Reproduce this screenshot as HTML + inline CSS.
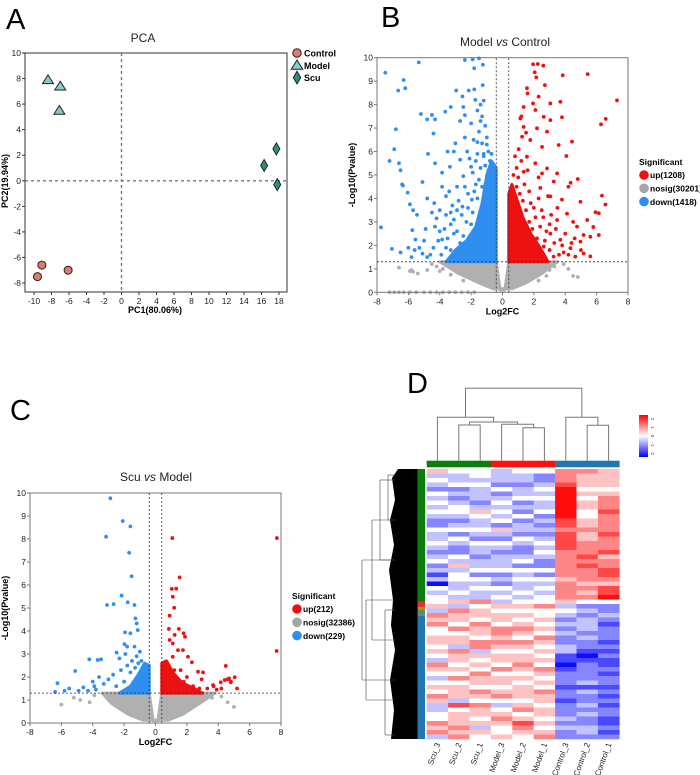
<!DOCTYPE html>
<html><head><meta charset="utf-8">
<style>
html,body{margin:0;padding:0;background:#fff;}
svg{display:block;font-family:"Liberation Sans",Arial,sans-serif;}
</style></head>
<body>
<svg id="fig" width="700" height="775" viewBox="0 0 700 775" xmlns="http://www.w3.org/2000/svg">
<g id="panelA"></g>
<g id="panelB"></g>
<g id="panelC"></g>
<g id="panelD"></g>
</svg>
<script>
// ---------- PCA data ----------
const pcaGroups = ["Control","Model","Scu"];
const pcaControl = [[-9.1,-6.6],[-9.6,-7.5],[-6.1,-7.0]];
const pcaModel = [[-8.4,7.9],[-7.0,7.4],[-7.1,5.5]];
const pcaScu = [[16.3,1.2],[17.7,2.5],[17.8,-0.3]];
const pcaXTicks = [-10,-8,-6,-4,-2,0,2,4,6,8,10,12,14,16,18];
const pcaYTicks = [-8,-6,-4,-2,0,2,4,6,8,10];

// ---------- Volcano B data ----------
const volTicksX = [-8,-6,-4,-2,0,2,4,6,8];
const volTicksY = [0,1,2,3,4,5,6,7,8,9,10];
const bLegend = ["up(1208)","nosig(30201)","down(1418)"];
const bDown = [[-7.47,9.36],[-6.3,9.05],[-6.2,8.7],[-6.65,8.6],[-6.8,6.95],[-6.9,6.1],[-7.2,5.6],[-6.6,5.5],[-6.5,5.2],[-6.4,4.6],[-6.35,4.55],[-6.05,4.25],[-5.9,3.75],[-5.7,3.5],[-7.75,2.77],[-5.75,2.65],[-7.05,1.85],[-6.5,1.7],[-5.34,9.8],[-5.2,7.6],[-4.8,7.37],[-4.5,7.56],[-4.3,7.37],[-4.4,6.77],[-4.75,5.9],[-4.3,5.5],[-5.1,4.7],[-4.35,3.8],[-3.65,7.7],[-3.3,7.9],[-3,6.35],[-3.1,6],[-3.6,4.1],[-2.95,8.6],[-2.55,8.35],[-2.4,9.9],[-1.9,9.93],[-1.5,9.97],[-1.25,9.7],[-1.8,9.55],[-2.15,8.6],[-1.8,8.65],[-1.26,8.83],[-1.73,8.2],[-1.2,8.17],[-2.5,7.9],[-2.4,7.55],[-1.6,7.75],[-1.3,7.5],[-2,7.2],[-1.5,6.85],[-2.4,6.6],[-1.84,6.5],[-1.3,6.35],[-2.25,6],[-1.6,5.9],[-1.2,5.8],[-2.7,5.65],[-2,5.35],[-3.35,5.35],[-3.85,5.1],[-2.5,4.95],[-2.9,4.5],[-3.85,4.5],[-4.8,4],[-4.5,3.4],[-5.45,3.3],[-4.9,2.7],[-4.2,3.15],[-3.3,3.4],[-5.55,2.25],[-5.1,1.65],[-3.85,2.25],[-3.1,2.5],[-2.55,3.65],[-1.95,3.95],[-1.1,7.1],[-1.0,6.6],[-0.9,6.0],[-1.4,7.3],[-0.8,5.6],[-1.7,4.6],[-2.2,4.2],[-2.8,3.9],[-3.3,2.9],[-4.0,2.6],[-5.0,2.2],[-6.0,1.9],[-5.8,1.5],[-4.6,1.6],[-3.6,1.9],[-3.2,3.7],[-2.1,5.7],[-1.6,6.4],[-1.4,8.0],[-2.7,7.3],[-3.5,6.0],
 [-4.8,1.5],[-4.4,1.9],[-4.1,2.2],[-3.9,1.6],[-3.7,2.7],[-3.5,2.3],[-3.3,1.8],[-3.1,3.1],[-2.9,2.6],[-2.8,1.9],[-2.6,3.3],[-2.5,2.4],[-2.3,3.0],[-2.2,3.6],[-2.0,2.9],[-1.9,3.4],[-1.8,4.3],[-1.6,4.0],[-1.5,4.8],[-1.4,5.3],[-1.3,4.5],[-1.2,5.9],[-1.1,5.4],[-1.0,6.3],[-5.3,1.9],[-5.6,1.8],[-4.3,2.8],[-3.6,3.3],[-2.7,2.1],[-2.4,4.5],[-1.9,5.1],[-1.7,5.6],[-1.1,4.6],[-0.9,5.2],[-0.7,5.9],[-4.0,3.5],[-3.4,4.3],[-2.9,3.5]];
const bUp = [[1.95,9.72],[2.25,9.73],[2.6,9.66],[2.05,9.38],[2.15,9.16],[3.84,9.25],[5.43,9.3],[7.3,8.18],[6.58,7.39],[6.28,7.16],[1.56,8.7],[1.6,8.48],[2.3,8.34],[3.05,8.05],[3.69,8.12],[2.7,8.83],[1.35,7.9],[1.95,8.05],[2.1,7.77],[1.14,7.41],[2.63,7.48],[3.05,7.34],[3.79,7.46],[1.35,7.05],[2.2,6.99],[2.84,6.85],[1.25,6.63],[1.77,6.49],[2.52,6.2],[3.58,6.28],[4.43,6.42],[4.07,5.81],[1.03,6.1],[1.56,5.78],[2.09,5.5],[2.84,5.28],[1.35,5.14],[2.52,5.07],[3.48,5.07],[3.27,4.72],[4.34,4.67],[4.8,4.83],[4.2,4.5],[2.41,4.45],[3.05,4.09],[3.79,3.95],[6.34,4.12],[6.56,3.74],[5.93,3.41],[6.14,3.37],[4.97,3.86],[5.4,3.08],[5.79,2.78],[4.11,3.35],[3.48,3.08],[4.75,2.8],[5.17,2.44],[5.6,2.37],[6.14,2.44],[4.97,2.16],[4.33,1.88],[5.6,1.53],[3.9,1.7],[3.05,2.5],[3.69,2.24],[2.63,1.95],[4.64,1.52],[3.26,1.52],[5.17,1.66],[0.9,5.3],[1.0,4.9],[1.7,4.3],[2.0,3.6],[2.6,3.2],[3.0,2.9],[1.2,7.5],[1.5,6.8],[0.8,5.8],[2.3,4.9],[4.6,2.3],[5.0,1.8],
 [0.7,5.0],[0.9,4.5],[1.1,4.2],[1.3,3.9],[1.4,4.6],[1.5,3.5],[1.7,3.0],[1.8,3.8],[1.9,2.7],[2.1,3.2],[2.2,2.3],[2.4,2.8],[2.5,3.5],[2.7,2.2],[2.8,2.6],[3.0,1.8],[3.1,3.3],[3.3,2.1],[3.4,2.7],[3.6,1.6],[3.8,2.0],[4.0,2.5],[4.2,1.6],[4.4,2.1],[2.9,4.1],[2.3,4.0],[1.6,5.2],[1.2,5.6],[3.5,3.6],[4.5,3.0],[1.0,3.7],[2.0,2.0]];
const bNosig = [[-6.6,1.05],[-5.9,0.9],[-5.7,0.88],[-5.4,0.8],[-4.8,0.95],[-4.2,1.1],[-4.0,0.9],[4.5,0.7],[4.8,0.65],[4.2,1.0],[3.9,1.2],[-7.2,0],[-6.9,0],[-6.6,0],[-6.3,0],[-5.9,0],[-5.5,0],[-5.0,0],[-4.6,0],[-4.2,0],[-3.8,0],[-3.4,0],[-3.0,0],[-2.6,0],[-2.2,0],[-1.8,0],[-5.8,0.95],[-3.5,1.2],[-4.5,1.2],[-3.8,1.0],[-3.3,0.75],[-2.9,1.1],[3.3,1.1],[3.0,0.95],[2.8,0.7],[-2.5,0.5],[2.3,0.5]];
const bDownCore = [[-0.4,1.3],[-0.4,5.3],[-0.7,5.6],[-1.0,5.0],[-1.3,3.8],[-1.7,2.8],[-2.3,2.2],[-3.0,1.8],[-3.6,1.3]];
const bUpCore = [[0.4,1.3],[0.4,4.2],[0.6,4.6],[0.9,4.0],[1.3,3.2],[1.8,2.5],[2.4,1.9],[2.9,1.3]];
const bNosigCore = [[-4.0,1.3],[-0.4,1.3],[-0.15,0.1],[0.15,0.1],[0.4,1.3],[3.5,1.3],[2.5,0.8],[1.5,0.4],[0.6,0.15],[-0.6,0.15],[-1.5,0.4],[-2.8,0.8]];

// ---------- Volcano C data ----------
const cLegend = ["up(212)","nosig(32386)","down(229)"];
const cDown = [[-2.88,9.77],[-2.09,8.78],[-1.6,8.55],[-3.15,8.1],[-1.68,7.4],[-1.52,6.38],[-2.16,5.54],[-3.09,5.13],[-2.67,5.17],[-1.77,5.25],[-1.34,5.13],[-1.28,4.55],[-1.2,4.33],[-1.13,4.04],[-1.94,3.94],[-1.6,3.9],[-1.98,3.43],[-1.81,3.32],[-1.34,3.32],[-2.48,3.06],[-1.92,3],[-4.22,2.77],[-3.69,2.74],[-3.47,2.77],[-2.3,2.81],[-5.12,2.26],[-6.25,1.73],[-5.5,1.5],[-4.6,1.55],[-4,1.8],[-3.6,2.0],[-3.3,1.7],[-3,1.9],[-2.7,2.1],[-2.5,1.6],[-2.2,2.3],[-2,1.8],[-1.8,2.5],[-1.6,2.2],[-1.5,2.7],[-1.3,2.4],[-1.2,2.9],[-1.1,2.6],[-0.9,2.2],[-0.8,1.9],[-0.7,2.4],[-5.8,1.4],[-6.4,1.35],[-4.9,1.4],[-4.3,1.4],[-3.8,1.45],[-3.9,1.6],[-1.4,1.5],[-1.0,3.1],[-0.9,2.7]];
const cUp = [[1.07,8.04],[7.74,8.04],[7.72,3.13],[1.54,6.33],[1.04,5.83],[1.32,5.84],[1.1,5.49],[1.19,5.01],[0.9,4.67],[0.85,4.09],[1.49,4.09],[1.22,3.83],[1.79,3.9],[1.88,3.75],[0.9,3.61],[1.1,3.46],[1.43,3.17],[1.75,3.17],[1.1,2.88],[2.07,2.88],[2.32,2.64],[4.48,2.48],[2.71,2.23],[3.03,2.2],[5.05,1.99],[4.69,1.94],[4.41,1.87],[4.16,1.77],[4.8,1.77],[3.67,1.65],[2.94,1.9],[4.6,1.9],[4.8,1.8],[3.7,1.6],[3.3,1.5],[2.4,1.6],[2.8,1.5],[2,2],[1.6,2.3],[1.8,1.8],[1.2,2.3],[0.8,2],[0.6,2.5],[1,1.7],[1.5,1.6],[3.9,1.45],[4.2,1.5],[5.2,1.5]];
const cNosig = [[-6,0.8],[-4.8,1.0],[-4.2,0.9],[4.6,0.9],[5,0.7],[-5.2,1.1],[3.6,1.1],[-3.9,1.2],[4.2,1.15]];
const cDownCore = [[-0.4,1.3],[-0.4,2.5],[-0.7,2.6],[-1.1,2.1],[-1.6,1.6],[-2.3,1.3]];
const cUpCore = [[0.4,1.3],[0.4,2.6],[0.7,2.7],[1.1,2.2],[1.7,1.75],[2.6,1.45],[3.0,1.3]];
const cNosigCore = [[-3.4,1.3],[-0.4,1.3],[-0.15,0.1],[0.15,0.1],[0.4,1.3],[3.8,1.3],[2.8,0.85],[1.8,0.4],[0.8,0.12],[-0.8,0.12],[-1.8,0.4],[-2.8,0.85]];

// ---------- Heatmap data (digit 0..8 -> z = (d-4)/2) ----------
const hmSamples = ["Scu_3","Scu_2","Scu_1","Model_3","Model_2","Model_1","Control_3","Control_2","Control_1"];
const hmScu3 = "53432434343224334323423130434"+"453"+"6564455454365434546533446563";
const hmScu2 = "43342323443234243224353443343"+"536"+"5546455365545464555374555656";
const hmScu1 = "44343332354334324332334243433"+"645"+"5465546635454655465465545354";
const hmModel3 = "33324234343425324323334232434"+"354"+"5546656545546455456434565445";
const hmModel2 = "43323342324233243223424343343"+"454"+"5456546545565454555456457654";
const hmModel1 = "42234343342323234343224243434"+"464"+"4545465454546545465545545456";
const hmControl3 = "66678888888776777766666656666"+"534"+"3232322331101222122122232322";
const hmControl2 = "65554545544556556667676665656"+"423"+"2333232210122223132232322332";
const hmControl1 = "55554566676666766675667765778"+"422"+"3212221212112122121212211212";
const hmGroups = ["Scu","Scu","Scu","Model","Model","Model","Control","Control","Control"];

const NS = "http://www.w3.org/2000/svg";
function mk(parent, tag, attrs, text){
  const e = document.createElementNS(NS, tag);
  for (const k in attrs) e.setAttribute(k, attrs[k]);
  if (text !== undefined) e.textContent = text;
  parent.appendChild(e);
  return e;
}
function lin(d0,d1,r0,r1){ return v => r0 + (v-d0)/(d1-d0)*(r1-r0); }

// ================= PANEL A =================
(function(){
  const g = document.getElementById('panelA');
  const sx = lin(-10,18,34,279), sy = lin(10,-8,53,283);
  let t = mk(g,'text',{x:6,y:29,'font-size':29,fill:'#000'},'A');
   
  t = mk(g,'text',{x:143,y:42,'font-size':12,'text-anchor':'middle',fill:'#222'},'PCA');
   
  const frame = mk(g,'rect',{x:25,y:53,width:262,height:239,fill:'none',stroke:'#333','stroke-width':1});
   
  pcaXTicks.forEach(v=>{
    mk(g,'line',{x1:sx(v),x2:sx(v),y1:292,y2:295,stroke:'#333'});
    const l = mk(g,'text',{x:sx(v),y:304,'font-size':8.5,'text-anchor':'middle',fill:'#222'},String(v));
     
  });
  pcaYTicks.forEach(v=>{
    mk(g,'line',{x1:22,x2:25,y1:sy(v),y2:sy(v),stroke:'#333'});
    const l = mk(g,'text',{x:21,y:sy(v)+3,'font-size':8.5,'text-anchor':'end',fill:'#222'},String(v));
     
  });
  const d1 = mk(g,'line',{x1:sx(0),x2:sx(0),y1:53,y2:292,stroke:'#777','stroke-width':1.4,'stroke-dasharray':'3,3'});
   
  const d2 = mk(g,'line',{x1:25,x2:287,y1:sy(0),y2:sy(0),stroke:'#777','stroke-width':1.4,'stroke-dasharray':'3,3'});
   
  t = mk(g,'text',{x:155,y:313,'font-size':9,'font-weight':'bold','text-anchor':'middle'},'PC1(80.06%)');
   
  t = mk(g,'text',{x:0,y:0,'font-size':9,'font-weight':'bold','text-anchor':'middle',transform:'translate(8,181) rotate(-90)'},'PC2(19.94%)');
   
  function circ(x,y,s){ return mk(g,'circle',{cx:x,cy:y,r:s*4,fill:'#e07a6a',stroke:'#222','stroke-width':1}); }
  function tri(x,y,s){ const r=5*s; return mk(g,'polygon',{points:`${x},${y-r} ${x-r*1.1},${y+r*0.75} ${x+r*1.1},${y+r*0.75}`,fill:'#86c9cf',stroke:'#222','stroke-width':1}); }
  function dia(x,y,s){ const r=5*s; return mk(g,'polygon',{points:`${x},${y-r*1.2} ${x-r*0.7},${y} ${x},${y+r*1.2} ${x+r*0.7},${y}`,fill:'#2e8e80',stroke:'#222','stroke-width':1}); }
  pcaControl.forEach(p=>{ const e=circ(sx(p[0]),sy(p[1]),1);
      });
  pcaModel.forEach(p=>{ const e=tri(sx(p[0]),sy(p[1]),1);
      });
  pcaScu.forEach(p=>{ const e=dia(sx(p[0]),sy(p[1]),1);
      });
  const makers=[circ,tri,dia];
  pcaGroups.forEach((name,i)=>{
    const y = 53+i*12.3;
    const m = makers[i](297,y,1.05);
     
    const l = mk(g,'text',{x:304,y:y+3.5,'font-size':9,'font-weight':'bold'},name);
     
  });
})();

// ================= VOLCANO =================
function volcano(gid, opt){
  const g = document.getElementById(gid);
  const sx = lin(-8,8,opt.px0,opt.px1), sy = lin(0,10,opt.py0,opt.py10);
  const pref = opt.prefix;
  let t = mk(g,'text',{x:opt.lx,y:opt.ly,'font-size':29,fill:'#000'},opt.letter);
   
  t = mk(g,'text',{x:opt.titleX,y:opt.titleY,'font-size':12,'text-anchor':'middle',fill:'#222'});
   
  mk(t,'tspan',{},opt.t1+' '); mk(t,'tspan',{'font-style':'italic'},'vs'); mk(t,'tspan',{},' '+opt.t2);
  const pts = [[opt.nosigCore,opt.nosig,'#b0b0b0','nosig'],[opt.downCore,opt.down,'#2e8ff0','down'],[opt.upCore,opt.up,'#ee1111','up']];
  pts.forEach(([core,arr,col,nm])=>{
    const poly = mk(g,'polygon',{points:core.map(p=>sx(p[0])+','+sy(p[1])).join(' '),fill:col,stroke:col,'stroke-width':3,'stroke-linejoin':'round'});
     
    arr.forEach(p=>{
      const c = mk(g,'circle',{cx:sx(p[0]),cy:sy(p[1]),r:1.9,fill:col});
       
    });
  });
  const fr = mk(g,'rect',{x:opt.px0,y:opt.py10,width:opt.px1-opt.px0,height:opt.py0-opt.py10,fill:'none',stroke:'#777','stroke-width':1});
   
  const hl = mk(g,'line',{x1:opt.px0,x2:opt.px1,y1:sy(1.3),y2:sy(1.3),stroke:'#333','stroke-width':0.8,'stroke-dasharray':'2,2'});
   
  [-0.4,0.4].forEach(v=>{
    const vl = mk(g,'line',{x1:sx(v),x2:sx(v),y1:opt.py0,y2:opt.py10,stroke:'#333','stroke-width':0.8,'stroke-dasharray':'2,2'});
     
  });
  volTicksX.forEach(v=>{
    mk(g,'line',{x1:sx(v),x2:sx(v),y1:opt.py0,y2:opt.py0+3,stroke:'#777'});
    const l = mk(g,'text',{x:sx(v),y:opt.py0+12,'font-size':8.5,'text-anchor':'middle',fill:'#222'},String(v));
     
  });
  volTicksY.forEach(v=>{
    mk(g,'line',{x1:opt.px0-3,x2:opt.px0,y1:sy(v),y2:sy(v),stroke:'#777'});
    const l = mk(g,'text',{x:opt.px0-4,y:sy(v)+3,'font-size':8.5,'text-anchor':'end',fill:'#222'},String(v));
     
  });
  t = mk(g,'text',{x:(opt.px0+opt.px1)/2,y:opt.py0+22,'font-size':9,'font-weight':'bold','text-anchor':'middle'},'Log2FC');
   
  t = mk(g,'text',{x:0,y:0,'font-size':9,'font-weight':'bold','text-anchor':'middle',transform:`translate(${opt.ytx},${(opt.py0+opt.py10)/2}) rotate(-90)`},'-Log10(Pvalue)');
   
  t = mk(g,'text',{x:opt.legX,y:opt.legY,'font-size':8.5,'font-weight':'bold'},'Significant');
   
  const cols=['#ee1111','#a6a6a6','#2e8ff0'];
  opt.legend.forEach((s,i)=>{
    const y = opt.legY+10+i*13.3;
    const c = mk(g,'circle',{cx:opt.legX+5,cy:y,r:4.8,fill:cols[i]});
     
    const l = mk(g,'text',{x:opt.legX+11,y:y+3.2,'font-size':8.5,'font-weight':'bold'},s);
     
  });
}
volcano('panelB',{prefix:'volcano-b',letter:'B',lx:381,ly:27,titleX:505,titleY:46,t1:'Model',t2:'Control',
  px0:377,px1:628,py0:292.3,py10:57.7,ytx:355,legX:639,legY:165,legend:bLegend,
  up:bUp,down:bDown,nosig:bNosig,upCore:bUpCore,downCore:bDownCore,nosigCore:bNosigCore});
volcano('panelC',{prefix:'volcano-c',letter:'C',lx:10,ly:420,titleX:156,titleY:481,t1:'Scu',t2:'Model',
  px0:30,px1:281,py0:723,py10:493,ytx:8,legX:292,legY:599,legend:cLegend,
  up:cUp,down:cDown,nosig:cNosig,upCore:cUpCore,downCore:cDownCore,nosigCore:cNosigCore});

// ================= PANEL D =================
(function(){
  const g = document.getElementById('panelD');
  let t = mk(g,'text',{x:407,y:393,'font-size':29,fill:'#000'},'D');
   
  const cols = [hmScu3,hmScu2,hmScu1,hmModel3,hmModel2,hmModel1,hmControl3,hmControl2,hmControl1];
  const nRows = Math.min(...cols.map(s=>s.length));
  const X0=426.7, X1=619.3, Y0=469, Y1=739;
  const cw=(X1-X0)/cols.length, rh=(Y1-Y0)/nRows;
  function color(z){
    const a = Math.min(1,Math.abs(z)/2);
    const v=Math.round(255*(1-a*0.95));
    if (z>=0) return `rgb(255,${v},${v})`;
    return `rgb(${v},${v},255)`;
  }
  cols.forEach((s,ci)=>{
    for(let r=0;r<nRows;r++){
      const z=(parseInt(s[r])-4)/2;
      const c = mk(g,'rect',{x:X0+ci*cw,y:Y0+r*rh,width:cw+0.3,height:rh+0.3,fill:color(z)});
       
    }
  });
  const gcol={Scu:'#0a7d0a',Model:'#ff1010',Control:'#2277b0'};
  hmGroups.forEach((gr,ci)=>{
    const b = mk(g,'rect',{x:X0+ci*cw,y:460.7,width:cw+0.3,height:6.6,fill:gcol[gr]});
     
  });
  const rowSeg=[[469,601.5,'#0a7d0a'],[601.5,607,'#e03030'],[607,609.5,'#d08030'],[609.5,613,'#4a9a4a'],[613,616,'#8a70a0'],[616,739,'#2277b0']];
  rowSeg.forEach(s=>{
    const b = mk(g,'rect',{x:417.7,y:s[0],width:7.3,height:s[1]-s[0],fill:s[2]});
     
  });
  const rd = mk(g,'g',{});
   
  mk(rd,'rect',{x:398,y:469,width:19.7,height:270,fill:'#000'});
  mk(rd,'polygon',{points:'398,469 392,478 395,500 390,520 394,545 389,570 393,600 391,625 395,650 390,680 394,710 391,739 398,739',fill:'#000'});
  [[380,480,560],[372,520,640],[366,600,700],[362,560,680],[385,610,735],[388,475,520]].forEach(l=>{
    mk(rd,'line',{x1:l[0],x2:l[0],y1:l[1],y2:l[2],stroke:'#444','stroke-width':0.6});
    mk(rd,'line',{x1:l[0],x2:395,y1:l[1],y2:l[1],stroke:'#444','stroke-width':0.6});
    mk(rd,'line',{x1:l[0],x2:395,y1:l[2],y2:l[2],stroke:'#444','stroke-width':0.6});
  });
  const cx = i => X0+cw*(i+0.5);
  const cd = mk(g,'g',{stroke:'#777','stroke-width':1,fill:'none'});
   
  function join(xa,ya,xb,yb,yj){ mk(cd,'path',{d:`M${xa},${ya} V${yj} H${xb} V${yb}`}); }
  const D=(cx(1)+cx(2))/2, F=(cx(4)+cx(5))/2, E=(cx(3)+F)/2, C=(D+E)/2, A=(cx(0)+C)/2, G=(cx(7)+cx(8))/2, B=(cx(6)+G)/2;
  join(cx(1),460.7,cx(2),460.7,425);
  join(cx(4),460.7,cx(5),460.7,427.7);
  join(cx(3),460.7,F,427.7,424.3);
  join(D,425,E,424.3,422);
  join(cx(0),460.7,C,422,417.3);
  join(cx(7),460.7,cx(8),460.7,425.3);
  join(cx(6),460.7,G,425.3,417.3);
  join(A,417.3,B,417.3,388.3);
  hmSamples.forEach((s,i)=>{
    const l = mk(g,'text',{x:0,y:0,'font-size':8,'text-anchor':'end',fill:'#222',transform:`translate(${cx(i)+3},744) rotate(-70)`},s);
     
  });
  const defs = mk(g,'defs',{});
  const lg = mk(defs,'linearGradient',{id:'cs',x1:0,y1:0,x2:0,y2:1});
  mk(lg,'stop',{offset:'0%','stop-color':'#ff0000'});
  mk(lg,'stop',{offset:'50%','stop-color':'#ffffff'});
  mk(lg,'stop',{offset:'100%','stop-color':'#0000ff'});
  const cb = mk(g,'rect',{x:639,y:415,width:9,height:42,fill:'url(#cs)'});
   
  ['2','1','0','-1','-2'].forEach((s,i)=>{
    const l = mk(g,'text',{x:0,y:0,'font-size':4.5,'text-anchor':'middle',fill:'#444',transform:`translate(651,${419+i*8.5}) rotate(90)`},s);
     
  });
})();
</script>
</body></html>
